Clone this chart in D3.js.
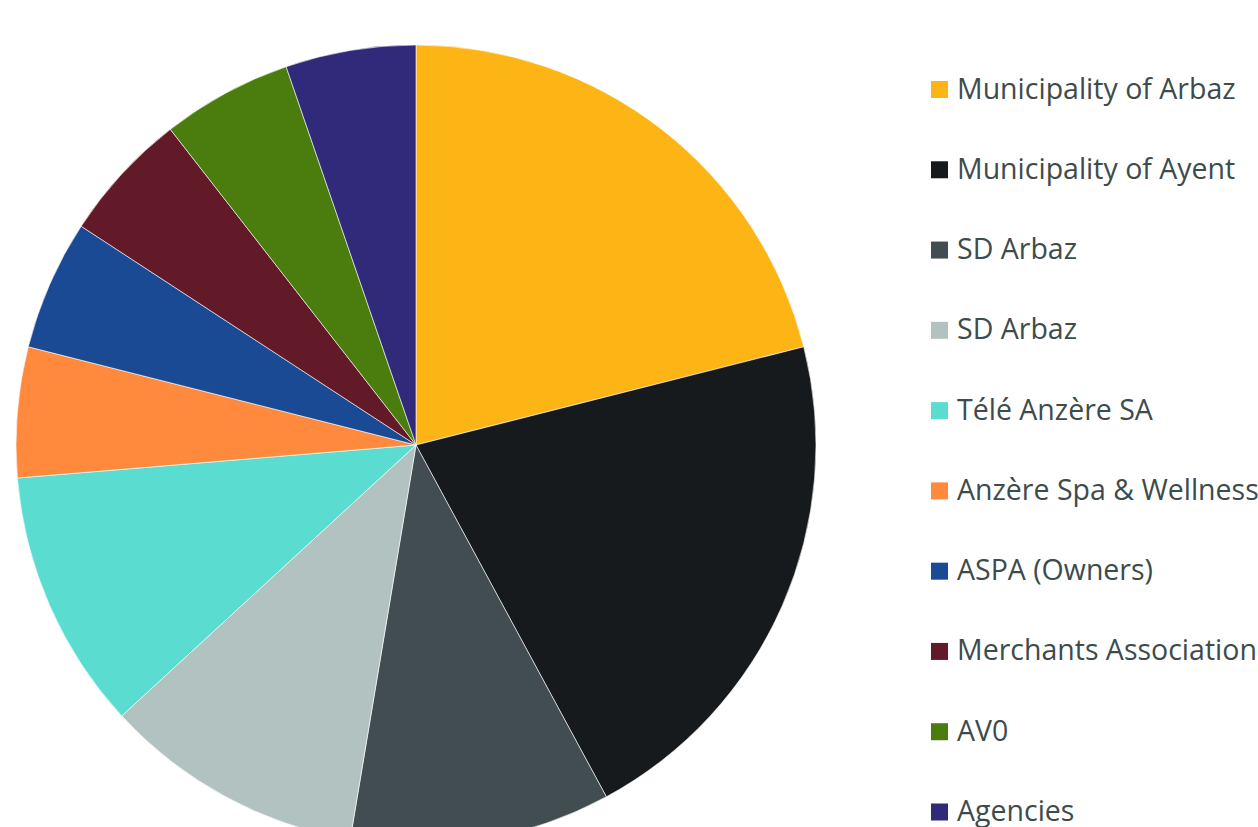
<!DOCTYPE html>
<html lang="en">
<head>
  <meta charset="UTF-8">
  <title>Pie chart</title>
  <script src="https://d3js.org/d3.v7.min.js"></script>
  <style>
    html, body { margin: 0; padding: 0; background: #fff; overflow: hidden; }
  </style>
</head>
<body>
  <svg id="chart"></svg>
  <script>
    // Data
    const labels = [
      "Municipality of Arbaz",
      "Municipality of Ayent",
      "SD Arbaz",
      "SD Arbaz",
      "Télé Anzère SA",
      "Anzère Spa & Wellness",
      "ASPA (Owners)",
      "Merchants Association",
      "AV0",
      "Agencies"
    ];
    const values = [20, 20, 10, 10, 10, 5, 5, 5, 5, 5];
    const colors = ["#FDB515", "#161A1C", "#414D50", "#B2C2C0", "#5ADDD0",
                    "#FF8A3D", "#1B4A94", "#631A28", "#4A7D0D", "#31297A"];

    const width = 1258, height = 827;
    const cx = 416, cy = 445, radius = 400;

    const svg = d3.select("#chart")
      .attr("width", width)
      .attr("height", height);

    const data = labels.map((l, i) => ({ label: l, value: values[i], color: colors[i] }));

    const pie = d3.pie().value(d => d.value).sort(null);
    const arc = d3.arc().innerRadius(0).outerRadius(radius);

    // Slices
    svg.append("g")
       .attr("transform", `translate(${cx},${cy})`)
       .selectAll("path")
       .data(pie(data))
       .join("path")
       .attr("d", arc)
       .attr("fill", d => d.data.color)
       .attr("stroke", "#fff")
       .attr("stroke-width", 0.6);

    // Legend
    const legendY = d3.scalePoint()
      .domain(d3.range(labels.length))
      .range([89.5, 812]);

    const legend = svg.append("g")
      .selectAll("g")
      .data(data)
      .join("g")
      .attr("transform", (d, i) => `translate(931,${legendY(i)})`);

    legend.append("rect")
      .attr("x", 0)
      .attr("y", -8.5)
      .attr("width", 17)
      .attr("height", 17)
      .attr("fill", d => d.color);

    legend.append("text")
      .attr("x", 26)
      .attr("y", 9)
      .style("font-family", "'Open Sans', sans-serif")
      .style("font-size", "28.5px")
      .style("fill", "#3E4B4C")
      .text(d => d.label);
  </script>
</body>
</html>
